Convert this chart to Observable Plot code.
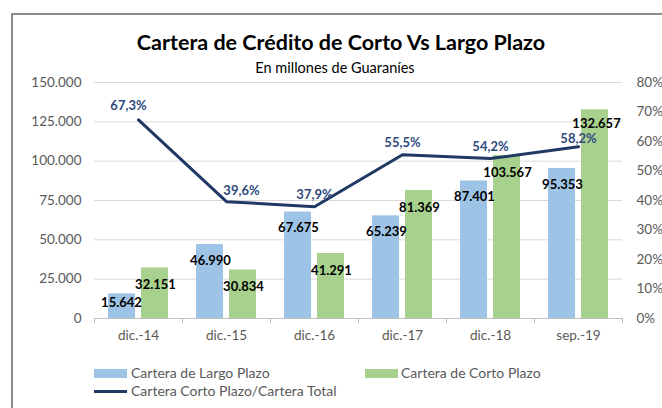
<!DOCTYPE html>
<html>
<head>
<meta charset="utf-8">
<script src="https://cdn.jsdelivr.net/npm/d3@7"></script>
<script src="https://cdn.jsdelivr.net/npm/@observablehq/plot@0.6"></script>
<style>
  html, body { margin: 0; padding: 0; background: #fff; }
  #wrap { position: relative; width: 662px; height: 408px; overflow: hidden; font-family: Lato, "Open Sans", sans-serif; }
  #frame { position: absolute; left: 11px; top: 13px; width: 800px; height: 600px; border-left: 2px solid #8c8c8c; border-top: 2px solid #8c8c8c; }
  #title { position: absolute; top: 29px; left: 0; width: 682px; text-align: center; font-size: 21.5px; font-weight: bold; color: #000; }
  #subtitle { position: absolute; top: 59px; left: 0; width: 670px; text-align: center; font-size: 14.5px; color: #000; }
  #chart { position: absolute; left: 0; top: 70px; }
  .leg { position: absolute; font-size: 14px; color: #595959; white-space: nowrap; }
  .sw { position: absolute; }
</style>
</head>
<body>
<div id="wrap">
  <div id="frame"></div>
  <div id="title">Cartera de Crédito de Corto Vs Largo Plazo</div>
  <div id="subtitle">En millones de Guaraníes</div>
  <div id="chart"></div>
  <div class="sw" style="left:94px;top:369px;width:33px;height:9px;background:#9DC3E6"></div>
  <div class="leg" style="left:131px;top:364px">Cartera de Largo Plazo</div>
  <div class="sw" style="left:365px;top:369px;width:33px;height:9px;background:#A9D18E"></div>
  <div class="leg" style="left:401px;top:364px">Cartera de Corto Plazo</div>
  <div class="sw" style="left:94px;top:390px;width:33px;height:3px;background:#1F3864"></div>
  <div class="leg" style="left:131px;top:382px">Cartera Corto Plazo/Cartera Total</div>
</div>
<script>
const categories = ["dic.-14", "dic.-15", "dic.-16", "dic.-17", "dic.-18", "sep.-19"];
const largoPlazo = [15642, 46990, 67675, 65239, 87401, 95353];
const cortoPlazo = [32151, 30834, 41291, 81369, 103567, 132657];
const ratioCorto = [67.3, 39.6, 37.9, 55.5, 54.2, 58.2];
const leftTicks = [0, 25000, 50000, 75000, 100000, 125000, 150000];
const pctTicks = [0, 10, 20, 30, 40, 50, 60, 70, 80];
const yMax = 150000;
const pctMax = 80;

const toY = p => p / pctMax * yMax;
const data = categories.map((c, i) => ({cat: c, largo: largoPlazo[i], corto: cortoPlazo[i], ratio: ratioCorto[i]}));
const fmt = d3.formatLocale({decimal: ",", thousands: ".", grouping: [3], currency: ["", ""]}).format(",d");
const fmtPct = p => p.toFixed(1).replace(".", ",") + "%";

const last = categories[categories.length - 1];
const lastIdx = categories.length - 1;
const chart = Plot.plot({
  width: 662,
  height: 290,
  marginLeft: 94,
  marginRight: 40,
  marginTop: 12,
  marginBottom: 42,
  style: {fontFamily: "Lato, 'Open Sans', sans-serif", background: "transparent"},
  x: {type: "band", domain: categories, padding: 0},
  y: {domain: [0, yMax]},
  marks: [
    Plot.ruleY(leftTicks.filter(d => d > 0), {stroke: "#d9d9d9", strokeWidth: 1}),
    Plot.barY(data, {x: "cat", y: "largo", fill: "#9DC3E6", insetLeft: 14, insetRight: 47}),
    Plot.barY(data, {x: "cat", y: "corto", fill: "#A9D18E", insetLeft: 47, insetRight: 14}),
    Plot.ruleY([0], {stroke: "#bfbfbf", strokeWidth: 1}),
    Plot.ruleX(categories, {x: d => d, dx: -44, y1: 0, y2: -3200, stroke: "#bfbfbf"}),
    Plot.ruleX([last], {x: d => d, dx: 44, y1: 0, y2: -3200, stroke: "#bfbfbf"}),
    Plot.line(data, {x: "cat", y: d => toY(d.ratio), stroke: "#1F3864", strokeWidth: 3}),
    Plot.text(data, {x: "cat", y: "largo", text: d => fmt(d.largo), dx: -16, dy: 16, fontWeight: "bold", fontSize: 13, fill: "#000", filter: d => d.largo > 20000}),
    Plot.text(data, {x: "cat", y: "largo", text: d => fmt(d.largo), dx: -17, dy: 9, fontWeight: "bold", fontSize: 13, fill: "#000", filter: d => d.largo <= 20000}),
    Plot.text(data, {x: "cat", y: "corto", text: d => fmt(d.corto), dx: 17, dy: 17, fontWeight: "bold", fontSize: 13, fill: "#000", filter: (d, i) => i < lastIdx}),
    Plot.text(data, {x: "cat", y: "corto", text: d => fmt(d.corto), dx: 18, dy: 14, fontWeight: "bold", fontSize: 13, fill: "#000", filter: (d, i) => i === lastIdx}),
    Plot.text(data, {x: "cat", y: d => toY(d.ratio), text: d => fmtPct(d.ratio), dy: -12, fontWeight: "bold", fontSize: 13, fill: "#2E4A7D", filter: (d, i) => i > 1 && i < lastIdx}),
    Plot.text(data, {x: "cat", y: d => toY(d.ratio), text: d => fmtPct(d.ratio), dy: -8, fontWeight: "bold", fontSize: 13, fill: "#2E4A7D", filter: (d, i) => i === lastIdx}),
    Plot.text(data, {x: "cat", y: d => toY(d.ratio), text: d => fmtPct(d.ratio), dx: -10, dy: -14, fontWeight: "bold", fontSize: 13, fill: "#2E4A7D", filter: (d, i) => i === 0}),
    Plot.text(data, {x: "cat", y: d => toY(d.ratio), text: d => fmtPct(d.ratio), dx: 15, dy: -11, fontWeight: "bold", fontSize: 13, fill: "#2E4A7D", filter: (d, i) => i === 1}),
    Plot.axisY({ticks: leftTicks, tickFormat: d => fmt(d), tickSize: 0, tickPadding: 13, anchor: "left", label: null, fontSize: 13.5, color: "#595959"}),
    Plot.axisY({ticks: pctTicks.map(toY), tickFormat: d => Math.round(d / yMax * pctMax) + "%", tickSize: 0, tickPadding: 14, anchor: "right", label: null, fontSize: 13.5, color: "#595959"}),
    Plot.axisX({tickSize: 0, tickPadding: 12, label: null, fontSize: 13.5, color: "#595959"})
  ]
});
document.getElementById("chart").appendChild(chart);
</script>
</body>
</html>
